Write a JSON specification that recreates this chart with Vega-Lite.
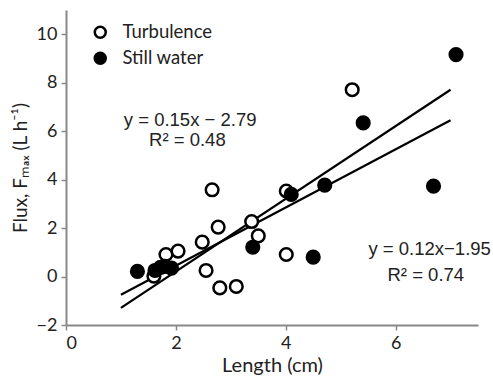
{
  "$schema": "https://vega.github.io/schema/vega-lite/v6.json",
  "autosize": "none",
  "width": 412,
  "height": 315,
  "padding": {"left": 66, "top": 10, "right": 15, "bottom": 51},
  "background": "white",
  "config": {
    "view": {"stroke": null},
    "font": "Liberation Sans"
  },
  "datasets": {
    "pts": [
      {"length": 2.66, "flux": 3.58, "condition": "Turbulence"},
      {"length": 2.77, "flux": 2.04, "condition": "Turbulence"},
      {"length": 2.48, "flux": 1.42, "condition": "Turbulence"},
      {"length": 1.82, "flux": 0.91, "condition": "Turbulence"},
      {"length": 2.04, "flux": 1.05, "condition": "Turbulence"},
      {"length": 2.55, "flux": 0.25, "condition": "Turbulence"},
      {"length": 2.80, "flux": -0.47, "condition": "Turbulence"},
      {"length": 3.10, "flux": -0.41, "condition": "Turbulence"},
      {"length": 3.38, "flux": 2.27, "condition": "Turbulence"},
      {"length": 3.50, "flux": 1.68, "condition": "Turbulence"},
      {"length": 4.01, "flux": 3.53, "condition": "Turbulence"},
      {"length": 4.01, "flux": 0.91, "condition": "Turbulence"},
      {"length": 1.60, "flux": 0.02, "condition": "Turbulence"},
      {"length": 5.21, "flux": 7.71, "condition": "Turbulence"},
      {"length": 1.30, "flux": 0.21, "condition": "Still water"},
      {"length": 1.62, "flux": 0.25, "condition": "Still water"},
      {"length": 1.72, "flux": 0.38, "condition": "Still water"},
      {"length": 1.80, "flux": 0.42, "condition": "Still water"},
      {"length": 1.92, "flux": 0.35, "condition": "Still water"},
      {"length": 3.40, "flux": 1.21, "condition": "Still water"},
      {"length": 4.50, "flux": 0.80, "condition": "Still water"},
      {"length": 4.10, "flux": 3.39, "condition": "Still water"},
      {"length": 4.71, "flux": 3.77, "condition": "Still water"},
      {"length": 5.41, "flux": 6.34, "condition": "Still water"},
      {"length": 6.69, "flux": 3.73, "condition": "Still water"},
      {"length": 7.10, "flux": 9.16, "condition": "Still water"}
    ],
    "fits": [
      {"fit": "A", "length": 1.0, "flux": -1.29},
      {"fit": "A", "length": 7.0, "flux": 7.71},
      {"fit": "B", "length": 1.0, "flux": -0.75},
      {"fit": "B", "length": 7.0, "flux": 6.45}
    ],
    "notes": [
      {"length": 2.26, "flux": 6.46, "label": "y = 0.15x − 2.79"},
      {"length": 2.21, "flux": 5.62, "label": "R² = 0.48"},
      {"length": 6.62, "flux": 1.14, "label": "y = 0.12x−1.95"},
      {"length": 6.55, "flux": 0.08, "label": "R² = 0.74"}
    ]
  },
  "layer": [
    {
      "data": {"name": "fits"},
      "mark": {"type": "line", "color": "black", "strokeWidth": 2.2},
      "encoding": {
        "x": {"field": "length", "type": "quantitative", "scale": {"domain": [0, 7.5], "nice": false, "zero": false},
          "axis": {"values": [0, 2, 4, 6], "format": "d", "title": "Length (cm)", "grid": false, "domainColor": "#888888", "domainWidth": 2, "tickColor": "#888888", "tickWidth": 1.5, "tickSize": 5, "labelPadding": 4, "labelFontSize": 18, "labelColor": "#222222", "titleFontSize": 20, "titleFontWeight": "normal", "titleColor": "#222222", "titleBaseline": "middle", "titleY": 40, "labelFont": "Lato", "titleFont": "Lato"}},
        "y": {"field": "flux", "type": "quantitative", "scale": {"domain": [-2, 11], "nice": false, "zero": false},
          "axis": {"values": [-2, 0, 2, 4, 6, 8, 10], "format": "d", "title": "Flux, Fₘₐₓ (L h⁻¹)", "grid": false, "domainColor": "#888888", "domainWidth": 2, "tickColor": "#888888", "tickWidth": 1.5, "tickSize": 5, "labelPadding": 4, "labelFontSize": 18, "labelColor": "#222222", "titleFontSize": 19, "titleFontWeight": "normal", "titleColor": "#222222", "titlePadding": 6, "labelFont": "Lato", "titleFont": "Lato"}},
        "detail": {"field": "fit"}
      }
    },
    {
      "data": {"name": "pts"},
      "mark": {"type": "point", "shape": "circle", "size": 160, "stroke": "black", "strokeWidth": 2.5, "opacity": 1, "filled": false},
      "encoding": {
        "x": {"field": "length", "type": "quantitative"},
        "y": {"field": "flux", "type": "quantitative"},
        "fill": {"field": "condition", "type": "nominal",
          "scale": {"domain": ["Turbulence", "Still water"], "range": ["white", "black"]},
          "legend": {"title": null, "orient": "none", "legendX": 25, "legendY": 13, "labelFontSize": 18.5, "labelFont": "Lato", "labelColor": "#222222", "symbolSize": 120, "symbolStrokeColor": "black", "symbolStrokeWidth": 2.5, "labelOffset": 13, "rowPadding": 4, "symbolType": "circle"}}
      }
    },
    {
      "data": {"name": "notes"},
      "mark": {"type": "text", "align": "center", "baseline": "middle", "fontSize": 18.5, "color": "#222222"},
      "encoding": {
        "x": {"field": "length", "type": "quantitative"},
        "y": {"field": "flux", "type": "quantitative"},
        "text": {"field": "label"}
      }
    }
  ]
}
